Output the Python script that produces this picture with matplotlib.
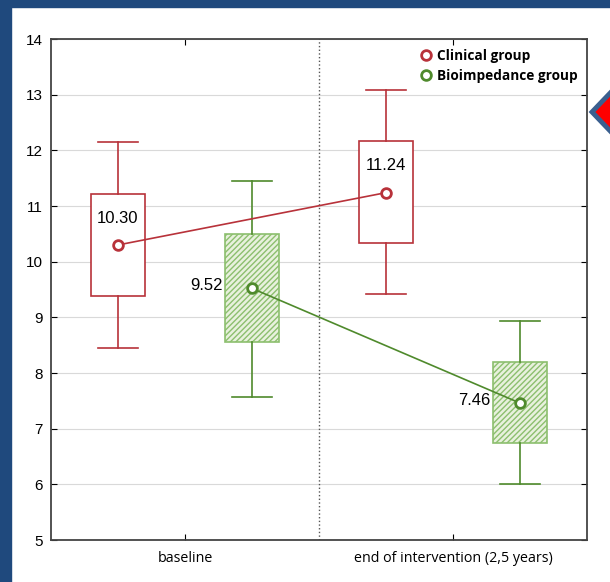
import matplotlib.pyplot as plt
from matplotlib.patches import Rectangle, Polygon

# data
groups = ['Clinical group', 'Bioimpedance group']
times = ['baseline', 'end of intervention (2,5 years)']
means = {'Clinical group': [10.30, 11.24], 'Bioimpedance group': [9.52, 7.46]}
box_lo = {'Clinical group': [9.38, 10.33], 'Bioimpedance group': [8.55, 6.74]}
box_hi = {'Clinical group': [11.22, 12.16], 'Bioimpedance group': [10.50, 8.20]}
wh_lo = {'Clinical group': [8.45, 9.42], 'Bioimpedance group': [7.57, 6.00]}
wh_hi = {'Clinical group': [12.15, 13.09], 'Bioimpedance group': [11.45, 8.93]}

red = '#b8323a'
green = '#4f8a2c'
offsets = {'Clinical group': -0.25, 'Bioimpedance group': 0.25}
colors = {'Clinical group': red, 'Bioimpedance group': green}

fig = plt.figure(figsize=(6.1, 5.82), dpi=100)
fig.patch.set_facecolor('white')
# blue frame strips
fig.patches.append(Rectangle((0, 0), 11 / 610, 1, transform=fig.transFigure,
                             color='#1f497d', zorder=0))
fig.patches.append(Rectangle((0, 1 - 7 / 582), 1, 7 / 582, transform=fig.transFigure,
                             color='#1f497d', zorder=0))
# red arrow at the right edge
fig.patches.append(Polygon([(592 / 610, 1 - 112 / 582), (614 / 610, 1 - 89 / 582),
                            (614 / 610, 1 - 135 / 582)], closed=True,
                           transform=fig.transFigure, facecolor='red',
                           edgecolor='#3a5f8f', linewidth=3.5, zorder=5,
                           joinstyle='miter'))

ax = fig.add_axes([51 / 610, 42 / 582, 536 / 610, 501 / 582])
ax.set_xlim(-0.5, 1.5)
ax.set_ylim(5, 14)
ax.set_yticks(range(5, 15))
ax.set_xticks([0, 1])
ax.set_xticklabels(times, family='Open Sans', fontsize=10.3)
ax.tick_params(direction='in', top=True, right=True, length=4, width=0.8)
ax.tick_params(axis='y', labelsize=11, pad=6)
for lab in ax.get_yticklabels():
    lab.set_family('Liberation Sans')
ax.tick_params(axis='x', pad=8)
ax.grid(axis='y', color='#d9d9d9', linewidth=0.8)
ax.set_axisbelow(True)
ax.axvline(0.5, color='#555555', linestyle=':', linewidth=1)
for s in ax.spines.values():
    s.set_color('#444444')
    s.set_linewidth(1.3)

bw = 0.2
cap = 0.075
for g in groups:
    c = colors[g]
    xs = [i + offsets[g] for i in range(2)]
    for i, x in enumerate(xs):
        lo, hi = box_lo[g][i], box_hi[g][i]
        if g == 'Bioimpedance group':
            r = Rectangle((x - bw / 2, lo), bw, hi - lo, facecolor='#e8f1dd',
                          edgecolor='#8cbf6e', hatch='//////', linewidth=1.2, zorder=2)
        else:
            r = Rectangle((x - bw / 2, lo), bw, hi - lo, facecolor='white',
                          edgecolor=c, linewidth=1.2, zorder=2)
        ax.add_patch(r)
        ax.plot([x, x], [hi, wh_hi[g][i]], color=c, linewidth=1.2, zorder=2)
        ax.plot([x, x], [lo, wh_lo[g][i]], color=c, linewidth=1.2, zorder=2)
        ax.plot([x - cap, x + cap], [wh_hi[g][i]] * 2, color=c, linewidth=1.2, zorder=2)
        ax.plot([x - cap, x + cap], [wh_lo[g][i]] * 2, color=c, linewidth=1.2, zorder=2)
    ax.plot(xs, means[g], color=c, linewidth=1.2, marker='o', markersize=7,
            markerfacecolor='white', markeredgecolor=c, markeredgewidth=2,
            zorder=4, label=g)
    for i, x in enumerate(xs):
        val = means[g][i]
        if g == 'Clinical group':
            ax.text(x, val + 0.48, f'{val:.2f}', ha='center', va='center',
                    fontsize=12, family='Liberation Sans', zorder=5)
        else:
            ax.text(x - 0.17, val + 0.05, f'{val:.2f}', ha='center', va='center',
                    fontsize=12, family='Liberation Sans', zorder=5)

leg = ax.legend(loc='upper right', frameon=False, handlelength=0.8,
                handletextpad=0.4, borderaxespad=0.3, labelspacing=0.45,
                prop={'family': 'Open Sans', 'weight': 'bold', 'size': 9.8})
for h in leg.legend_handles:
    h.set_linestyle('none')

fig.savefig('out.png', dpi=100)
